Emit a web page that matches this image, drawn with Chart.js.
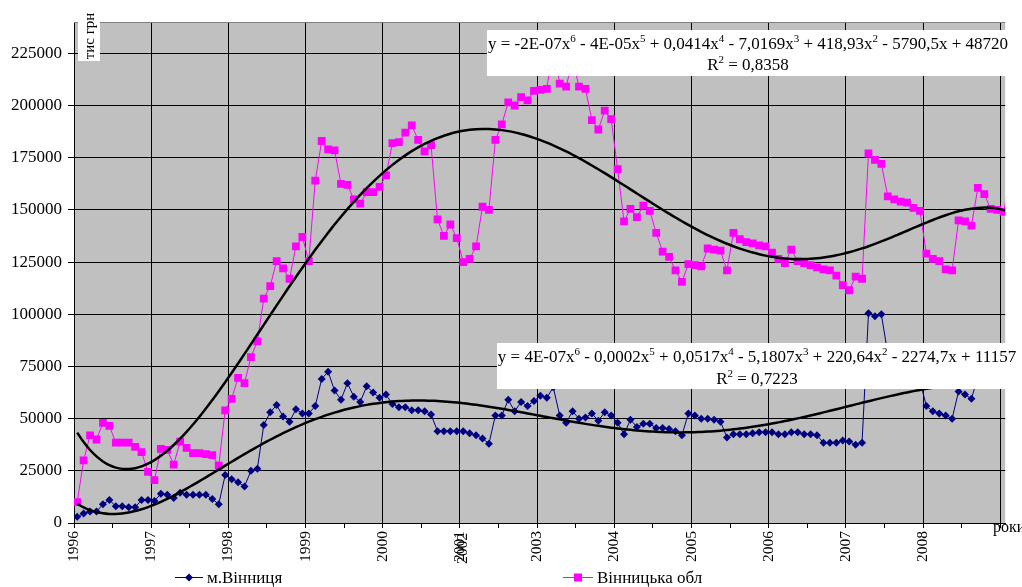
<!DOCTYPE html>
<html>
<head>
<meta charset="utf-8">
<script src="https://cdn.jsdelivr.net/npm/chart.js@4.4.0/dist/chart.umd.min.js"></script>
<style>
    html, body { margin: 0; padding: 0; background: #fff; overflow: hidden; }
    #wrap { width: 1022px; height: 587px; }
</style>
</head>
<body>
<div id="wrap"><canvas id="incomeChart" width="1022" height="587"></canvas></div>
<script>
// year labels at the start of every 12-month block (2001 is followed by 2003 in the source)
const yearLabels = ['1996', '1997', '1998', '1999', '2000', '2001', '2003', '2004', '2005', '2006', '2007', '2008'];
const yTicks = [0, 25000, 50000, 75000, 100000, 125000, 150000, 175000, 200000, 225000];

// monthly values, тис грн
const cityValues = [
    3000, 4500, 5500, 5500, 9000, 11000, 8000, 8000, 7500, 7500, 11000, 11000,
    10500, 14000, 13500, 12000, 14500, 13500, 13500, 13500, 13500, 11500, 9000, 23000,
    21000, 19500, 17500, 25000, 26000, 47000, 53000, 56500, 51000, 48500, 54500, 52500,
    52500, 56000, 69000, 72500, 63500, 59000, 67000, 60500, 58000, 65500, 62500, 60000,
    61500, 57000, 55500, 55500, 54000, 54000, 53500, 52000, 44000, 44000, 44000, 44000,
    44000, 43000, 42000, 40500, 38000, 51500, 51500, 59000, 53500, 58000, 56000, 58500,
    61000, 60000, 65000, 51500, 48000, 53500, 50000, 50500, 52500, 49000, 53000, 51500,
    48000, 42500, 49500, 46000, 47500, 47500, 45500, 45500, 45000, 44000, 42000, 52500,
    51500, 50000, 50000, 49500, 48500, 41000, 42500, 42500, 42500, 43000, 43500, 43500,
    43500, 42500, 42500, 43500, 43500, 42500, 42500, 42000, 38500, 38500, 38500, 39500,
    39000, 37500, 38500, 100500, 99000, 100000, 81000, 79000, 77000, 75000, 72000, 68000,
    56000, 53500, 52500, 51500, 50000, 63000, 61500, 59500, 70000, 69000, 67000, 67500,
    67500, 70000
];
const regionValues = [
    10000, 30000, 42000, 40000, 48000, 46500, 38500, 38500, 38500, 36500, 34000, 24500,
    20500, 35500, 35000, 28000, 39000, 36000, 33500, 33500, 33000, 32500, 27500, 54000,
    59500, 69500, 67000, 79500, 87000, 107500, 113500, 125500, 122000, 117000, 132500, 137000,
    125500, 164000, 183000, 179000, 178500, 162500, 162000, 155000, 153000, 158500, 158500, 161000,
    166500, 182000, 182500, 187000, 190500, 183500, 178000, 181000, 145500, 137500, 143000, 136500,
    125000, 126500, 132500, 151500, 150000, 183500, 191000, 201500, 200000, 204000, 202500, 207000,
    207500, 208000, 230000, 210500, 209000, 222000, 209000, 208000, 193000, 188500, 197500, 193500,
    169500, 144500, 150500, 146500, 152000, 149500, 139000, 130000, 127500, 121000, 115500, 124000,
    123500, 123000, 131500, 131000, 130500, 121000, 139000, 136000, 134500, 134000, 133000, 132500,
    129500, 126500, 124500, 131000, 125500, 124500, 123500, 122500, 121500, 121000, 118500, 114000,
    111500, 118000, 117000, 177000, 174000, 172000, 156500, 155000, 154000, 153500, 151000, 149500,
    129000, 126500, 125500, 121500, 121000, 145000, 144500, 142500, 160500, 157500, 150500, 150000,
    149000, 165000
];

const regionEquation = 'y = -2E-07x^6 - 4E-05x^5 + 0,0414x^4 - 7,0169x^3 + 418,93x^2 - 5790,5x + 48720';
const regionR2 = 'R^2 = 0,8358';
const cityEquation = 'y = 4E-07x^6 - 0,0002x^5 + 0,0517x^4 - 5,1807x^3 + 220,64x^2 - 2274,7x + 11157';
const cityR2 = 'R^2 = 0,7223';

const serif = 'Liberation Serif, Times New Roman, serif';

// least squares polynomial trend, x = 1..n like the spreadsheet does
function polyTrend(values, degree) {
    const n = values.length;
    const c = (n + 1) / 2, h = (n - 1) / 2;
    const m = degree + 1;
    const A = Array.from({ length: m }, () => new Array(m + 1).fill(0));
    values.forEach((v, i) => {
        const t = (i + 1 - c) / h;
        const p = [];
        for (let j = 0; j < m; j++) p.push(Math.pow(t, j));
        for (let r = 0; r < m; r++) {
            for (let k = 0; k < m; k++) A[r][k] += p[r] * p[k];
            A[r][m] += p[r] * v;
        }
    });
    for (let col = 0; col < m; col++) {
        let piv = col;
        for (let r = col + 1; r < m; r++) {
            if (Math.abs(A[r][col]) > Math.abs(A[piv][col])) piv = r;
        }
        [A[col], A[piv]] = [A[piv], A[col]];
        for (let r = 0; r < m; r++) {
            if (r === col) continue;
            const f = A[r][col] / A[col][col];
            for (let k = col; k <= m; k++) A[r][k] -= f * A[col][k];
        }
    }
    const coef = A.map((row, i) => row[m] / row[i]);
    return values.map((v, i) => {
        const t = (i + 1 - c) / h;
        return coef.reduce((s, a, j) => s + a * Math.pow(t, j), 0);
    });
}

const toPoints = arr => arr.map((v, i) => ({ x: i + 0.5, y: v }));

// text with ^digit superscripts
function drawRich(ctx, text, cx, baseline, size) {
    const parts = text.split(/\^(\d)/);
    const supSize = Math.round(size * 0.65);
    let width = 0;
    parts.forEach((p, i) => {
        ctx.font = (i % 2 ? supSize : size) + 'px ' + serif;
        width += ctx.measureText(p).width;
    });
    let x = cx - width / 2;
    ctx.textAlign = 'left';
    ctx.textBaseline = 'alphabetic';
    ctx.fillStyle = '#000';
    parts.forEach((p, i) => {
        const sup = i % 2 === 1;
        ctx.font = (sup ? supSize : size) + 'px ' + serif;
        ctx.fillText(p, x, sup ? baseline - size * 0.42 : baseline);
        x += ctx.measureText(p).width;
    });
}

const decorPlugin = {
    id: 'decor',
    beforeDraw(chart) {
        const { ctx, chartArea: a } = chart;
        ctx.save();
        ctx.fillStyle = '#fff';
        ctx.fillRect(0, 0, chart.width, chart.height);
        ctx.fillStyle = '#C0C0C0';
        ctx.fillRect(a.left, a.top, a.right - a.left, a.bottom - a.top);
        ctx.restore();
    },
    afterDraw(chart) {
        const { ctx, chartArea: a } = chart;
        const xs = chart.scales.x;
        ctx.save();

        // top border of the plot
        ctx.strokeStyle = '#808080';
        ctx.lineWidth = 1;
        ctx.beginPath();
        ctx.moveTo(a.left, a.top + 0.5);
        ctx.lineTo(a.right, a.top + 0.5);
        ctx.stroke();

        // second label printed over the 2001 tick
        ctx.save();
        ctx.font = '15.5px ' + serif;
        ctx.fillStyle = '#000';
        ctx.textAlign = 'right';
        ctx.textBaseline = 'middle';
        ctx.translate(xs.getPixelForValue(60) + 3, a.bottom + 10);
        ctx.rotate(-Math.PI / 2);
        ctx.fillText('2002', 0, 0);
        ctx.restore();

        // y axis title
        ctx.fillStyle = '#fff';
        ctx.fillRect(78, 12, 22, 49);
        ctx.save();
        ctx.font = '15px ' + serif;
        ctx.fillStyle = '#000';
        ctx.textAlign = 'center';
        ctx.textBaseline = 'middle';
        ctx.translate(90, 36);
        ctx.rotate(-Math.PI / 2);
        ctx.fillText('тис грн', 0, 0);
        ctx.restore();

        // x axis title
        ctx.font = '16px ' + serif;
        ctx.fillStyle = '#000';
        ctx.textAlign = 'left';
        ctx.textBaseline = 'alphabetic';
        ctx.fillText('роки', 993, 532);

        // trend equations
        ctx.fillStyle = '#fff';
        ctx.fillRect(487, 30, 523, 46);
        drawRich(ctx, regionEquation, 748, 49, 17);
        drawRich(ctx, regionR2, 748, 70, 17);
        ctx.fillStyle = '#fff';
        ctx.fillRect(497, 343, 521, 46);
        drawRich(ctx, cityEquation, 757, 362, 17);
        drawRich(ctx, cityR2, 757, 384, 17);

        // legend
        ctx.lineWidth = 1;
        ctx.strokeStyle = '#000080';
        ctx.beginPath();
        ctx.moveTo(175, 577.5);
        ctx.lineTo(203, 577.5);
        ctx.stroke();
        ctx.fillStyle = '#000080';
        ctx.beginPath();
        ctx.moveTo(185, 577.5);
        ctx.lineTo(189, 573.5);
        ctx.lineTo(193, 577.5);
        ctx.lineTo(189, 581.5);
        ctx.closePath();
        ctx.fill();

        ctx.strokeStyle = '#FF00FF';
        ctx.beginPath();
        ctx.moveTo(563, 577.5);
        ctx.lineTo(593, 577.5);
        ctx.stroke();
        ctx.fillStyle = '#FF00FF';
        ctx.fillRect(574, 573.5, 8, 8);

        ctx.font = '17px ' + serif;
        ctx.fillStyle = '#000';
        ctx.fillText('м.Вінниця', 207, 583);
        ctx.fillText('Вінницька обл', 597, 583);
        ctx.fillText('Поліноміальний (Вінницька обл)', 207, 599.5);
        ctx.fillText('Поліноміальний (м.Вінниця)', 597, 599.5);

        ctx.restore();
    }
};

const ctx = document.getElementById('incomeChart').getContext('2d');

new Chart(ctx, {
    type: 'line',
    data: {
        datasets: [
            {
                label: 'Поліноміальний (Вінницька обл)',
                data: toPoints(polyTrend(regionValues, 6)),
                borderColor: '#000',
                borderWidth: 2.5,
                pointRadius: 0,
                tension: 0.3
            },
            {
                label: 'Поліноміальний (м.Вінниця)',
                data: toPoints(polyTrend(cityValues, 6)),
                borderColor: '#000',
                borderWidth: 2.5,
                pointRadius: 0,
                tension: 0.3
            },
            {
                label: 'м.Вінниця',
                data: toPoints(cityValues),
                borderColor: '#000080',
                backgroundColor: '#000080',
                borderWidth: 1,
                pointStyle: 'rectRot',
                pointRadius: 4,
                pointBorderWidth: 0,
                tension: 0
            },
            {
                label: 'Вінницька обл',
                data: toPoints(regionValues),
                borderColor: '#FF00FF',
                backgroundColor: '#FF00FF',
                borderWidth: 1,
                pointStyle: 'rect',
                pointRadius: 5.5,
                pointBorderWidth: 0,
                tension: 0
            }
        ]
    },
    options: {
        responsive: false,
        animation: false,
        devicePixelRatio: 1,
        layout: { padding: { left: 0, top: 22, right: 0, bottom: 0 } },
        plugins: {
            legend: { display: false },
            tooltip: { enabled: false }
        },
        scales: {
            x: {
                type: 'linear',
                min: 0,
                max: 144.75,
                afterBuildTicks: scale => {
                    const t = [];
                    for (let v = 0; v <= 144; v += 6) t.push({ value: v });
                    scale.ticks = t;
                },
                afterFit: scale => { scale.height = 64; },
                ticks: {
                    autoSkip: false,
                    minRotation: 90,
                    maxRotation: 90,
                    padding: 3,
                    color: '#000',
                    font: { family: serif, size: 15.5 },
                    callback: v => (v % 12 === 0 && yearLabels[v / 12]) ? yearLabels[v / 12] : ''
                },
                grid: {
                    color: c => (c.tick && c.tick.value % 12 === 0) ? '#000' : 'rgba(0,0,0,0)',
                    tickColor: '#000',
                    tickLength: 5,
                    lineWidth: 1
                },
                border: { display: true, color: '#000', width: 1 }
            },
            y: {
                min: 0,
                max: 240000,
                afterBuildTicks: scale => {
                    scale.ticks = yTicks.map(v => ({ value: v }));
                },
                afterFit: scale => { scale.width = 74; },
                ticks: {
                    padding: 6,
                    color: '#000',
                    font: { family: serif, size: 17 },
                    callback: v => String(v)
                },
                grid: {
                    color: '#000',
                    tickColor: '#000',
                    tickLength: 6,
                    lineWidth: 1
                },
                border: { display: true, color: '#000', width: 1 }
            }
        }
    },
    plugins: [decorPlugin]
});
</script>
</body>
</html>
